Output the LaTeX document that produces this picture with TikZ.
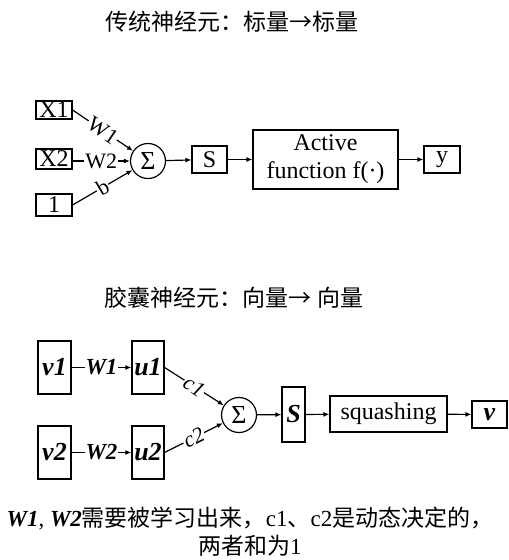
\documentclass[tikz,border=0pt]{standalone}
\usepackage{fontspec}
\setmainfont{Liberation Serif}
\newfontfamily\cjk{Noto Sans CJK SC}
\usetikzlibrary{arrows.meta}
\begin{document}
\begin{tikzpicture}[x=1pt,y=-1pt,
  bx/.style={draw, line width=1.2pt, inner sep=0pt, font=\fontsize{24}{28}\selectfont},
  bbx/.style={draw, line width=1.2pt, inner sep=0pt, font=\fontsize{26}{28}\selectfont\bfseries\itshape},
  sg/.style={draw, circle, line width=1.2pt, inner sep=0pt, minimum size=35pt, font=\fontsize{26}{28}\selectfont},
  arr/.style={-{Latex[length=6pt,width=5pt]}, line width=1.2pt},
  lab/.style={fill=white, inner sep=1pt, font=\fontsize{22}{24}\selectfont},
  blab/.style={fill=white, inner sep=1pt, font=\fontsize{23}{24}\selectfont\bfseries\itshape},
  ilab/.style={fill=white, inner sep=1pt, font=\fontsize{22}{24}\selectfont\itshape},
  ttl/.style={font=\fontsize{23}{26}\selectfont\cjk}
]
\useasboundingbox (0,0) rectangle (509,560);

% top title
\node[ttl] (t1) at (232,22) {传统神经元：标量→标量};

% top network
\node[bx, minimum width=36pt, minimum height=18pt] (x1) at (54,110) {X1};
\node[bx, minimum width=36pt, minimum height=20pt] (x2) at (54,159) {X2};
\node[bx, minimum width=36pt, minimum height=22pt] (one) at (54,205) {1};
\node[sg] (s1) at (148,161) {Σ};
\node[bx, minimum width=35pt, minimum height=27pt] (S1) at (209.5,159.5) {S};
\node[bx, minimum width=145pt, minimum height=59pt, align=center] (act) at (325.5,159.5) {Active\\function f(·)};
\node[bx, minimum width=36pt, minimum height=27pt] (y) at (442,159.5) {y};

\draw[arr] (x1.east) -- node[lab, sloped] {W1} (s1);
\draw[arr] (x2.east |- s1) -- node[lab] {W2} (s1);
\draw[arr] (one.east) -- node[lab, sloped] {b} (s1);
\draw[arr] (s1) -- (S1);
\draw[arr] (S1) -- (act);
\draw[arr] (act) -- (y);

% bottom title
\node[ttl] (t2) at (234,298) {胶囊神经元：向量→ 向量};

% bottom network
\node[bbx, minimum width=33pt, minimum height=53pt] (v1) at (54.5,367.5) {v1};
\node[bbx, minimum width=32pt, minimum height=53pt] (u1) at (148,367.5) {u1};
\node[bbx, minimum width=33pt, minimum height=53pt] (v2) at (54.5,452.5) {v2};
\node[bbx, minimum width=32pt, minimum height=53pt] (u2) at (148,452.5) {u2};
\node[sg] (s2) at (239,415) {Σ};
\node[bbx, minimum width=23pt, minimum height=55pt] (S2) at (293.5,414.5) {S};
\node[bx, minimum width=117pt, minimum height=36pt] (sq) at (388.5,414) {squashing};
\node[bbx, minimum width=35pt, minimum height=27pt] (v) at (489.5,414.5) {v};

\draw[arr] (v1) -- node[blab] {W1} (u1);
\draw[arr] (v2) -- node[blab] {W2} (u2);
\draw[arr] (u1.east) -- node[ilab, sloped] {c1} (s2);
\draw[arr] (u2.east) -- node[ilab, sloped] {c2} (s2);
\draw[arr] (s2) -- (S2);
\draw[arr] (S2) -- (sq);
\draw[arr] (sq) -- (v);

% note
\node[align=center, font=\fontsize{23}{28}\selectfont] (note) at (250,532)
  {\textbf{\textit{W1}}, \textbf{\textit{W2}}{\cjk 需要被学习出来，}c1{\cjk 、}c2{\cjk 是动态决定的，}\\{\cjk 两者和为}1};
\end{tikzpicture}
\end{document}
